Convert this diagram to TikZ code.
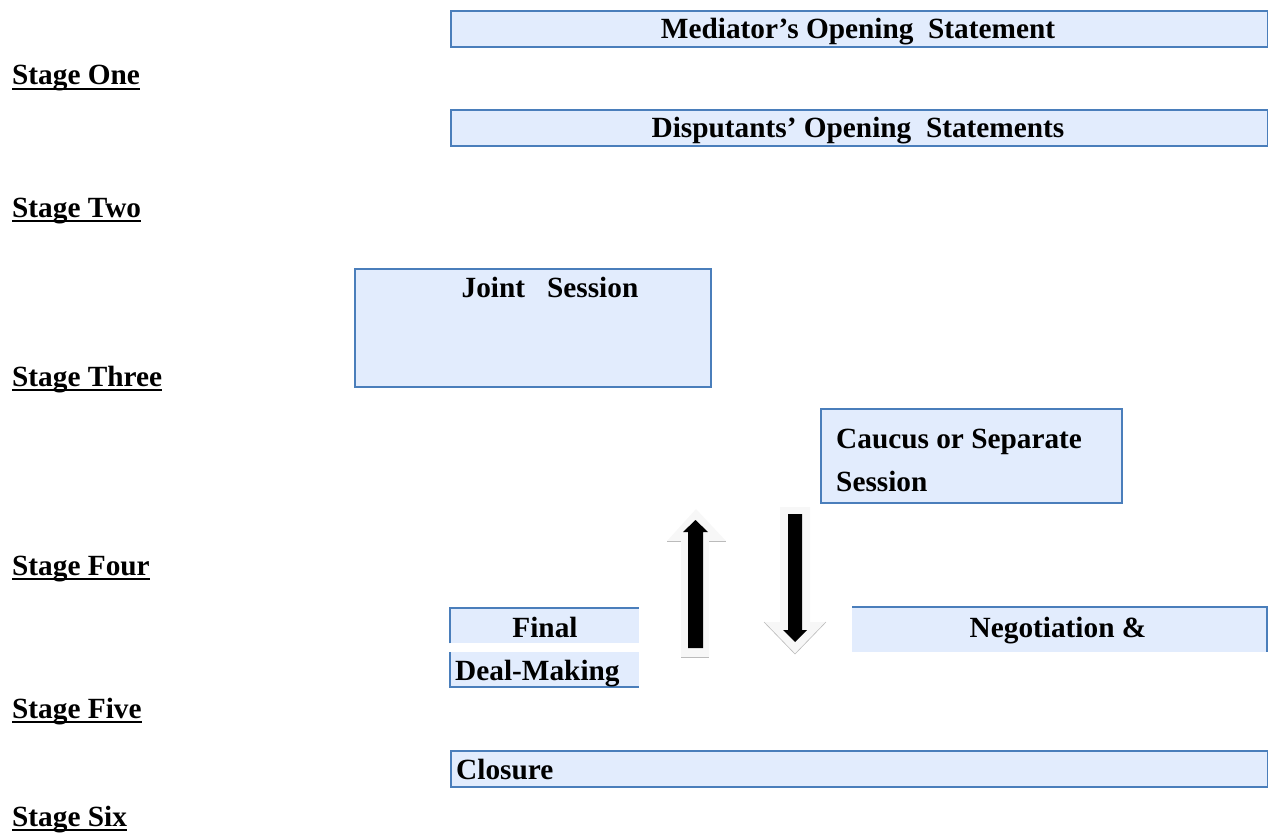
\documentclass[tikz,border=0pt]{standalone}
\usepackage{fontspec}
\setmainfont{Liberation Serif}
\definecolor{boxfill}{HTML}{E2ECFD}
\definecolor{boxline}{HTML}{4A7EBB}
\definecolor{arrowpale}{HTML}{F7F7F7}
\definecolor{arrowedge}{HTML}{BBBBBB}
\tikzset{
  txt/.style={inner sep=0pt, font=\fontsize{29.3}{34}\selectfont\bfseries},
  stagelbl/.style={txt, anchor=base west},
  boxbg/.style={fill=boxfill, draw=none, inner sep=0pt, anchor=north west},
  fullbox/.style={boxbg, draw=boxline, line width=2pt},
  edge/.style={draw=boxline, line width=2pt},
  uline/.style={line width=2.8pt}
}
\begin{document}
\begin{tikzpicture}[x=1pt,y=-1pt]
\useasboundingbox (0,0) rectangle (1268,832);
% full boxes
\node[fullbox, minimum width=817pt, minimum height=36pt] (b1) at (450,10) {};
\node[fullbox, minimum width=817pt, minimum height=36pt] (b2) at (450,109) {};
\node[fullbox, minimum width=356pt, minimum height=118pt] (b3) at (354,268) {};
\node[fullbox, minimum width=301pt, minimum height=94pt] (b4) at (820,408) {};
\node[fullbox, minimum width=817pt, minimum height=36pt] (b7) at (450,750) {};
% partial boxes
\node[boxbg, minimum width=189pt, minimum height=35pt] (b5a) at (450,608) {};
\draw[edge] (b5a.south west) -- (b5a.north west) -- (b5a.north east);
\node[boxbg, minimum width=189pt, minimum height=35pt] (b5b) at (450,652) {};
\draw[edge] (b5b.north west) -- (b5b.south west) -- (b5b.south east);
\node[boxbg, minimum width=415pt, minimum height=45pt] (b6) at (852,607) {};
\draw[edge] (b6.north west) -- (b6.north east) -- (b6.south east);
% box texts
\node[txt, anchor=base] (t1) at (858,39) {Mediator’s Opening\ \ Statement};
\node[txt, anchor=base] (t2) at (858,138) {Disputants’ Opening\ \ Statements};
\node[txt, anchor=base] (t3) at (550,297) {Joint\hspace{22pt}Session};
\node[txt, anchor=base west] (t4a) at (836,448) {Caucus or Separate};
\node[txt, anchor=base west] (t4b) at (836,491) {Session};
\node[txt, anchor=base] (t5a) at (545,637) {Final};
\node[txt, anchor=base west] (t5b) at (455,680) {Deal-Making};
\node[txt, anchor=base] (t6) at (1058,637) {Negotiation \&};
\node[txt, anchor=base west] (t7) at (456,779) {Closure};
% stage labels
\node[stagelbl] (s1) at (12,85) {Stage One};
\node[stagelbl] (s2) at (12,217) {Stage Two};
\node[stagelbl] (s3) at (12,386) {Stage Three};
\node[stagelbl] (s4) at (12,575) {Stage Four};
\node[stagelbl] (s5) at (12,718) {Stage Five};
\node[stagelbl] (s6) at (12,826) {Stage Six};
\foreach \s in {s1,s2,s3,s4,s5,s6}
  \draw[uline] ([yshift=-4pt]\s.base west) -- ([yshift=-4pt]\s.base east);
% up arrow
\fill[arrowpale] (681,657) -- (681,541) -- (667,541) -- (696,509) -- (726,541) -- (709,541) -- (709,657) -- cycle;
\draw[arrowedge, line width=1pt] (667,541) -- (681,541) (709,541) -- (726,541) (681,657) -- (709,657);
\fill[black] (688,648) -- (688,532) -- (683,532) -- (695.5,520) -- (708,532) -- (703,532) -- (703,648) -- cycle;
% down arrow
\fill[arrowpale] (780,507) -- (810,507) -- (810,622) -- (826,622) -- (795,654) -- (764,622) -- (780,622) -- cycle;
\draw[arrowedge, line width=0.6pt] (764,622) -- (795,654) -- (826,622);
\fill[black] (788,514) -- (802,514) -- (802,630) -- (807,630) -- (795,642) -- (783,630) -- (788,630) -- cycle;
\end{tikzpicture}
\end{document}
